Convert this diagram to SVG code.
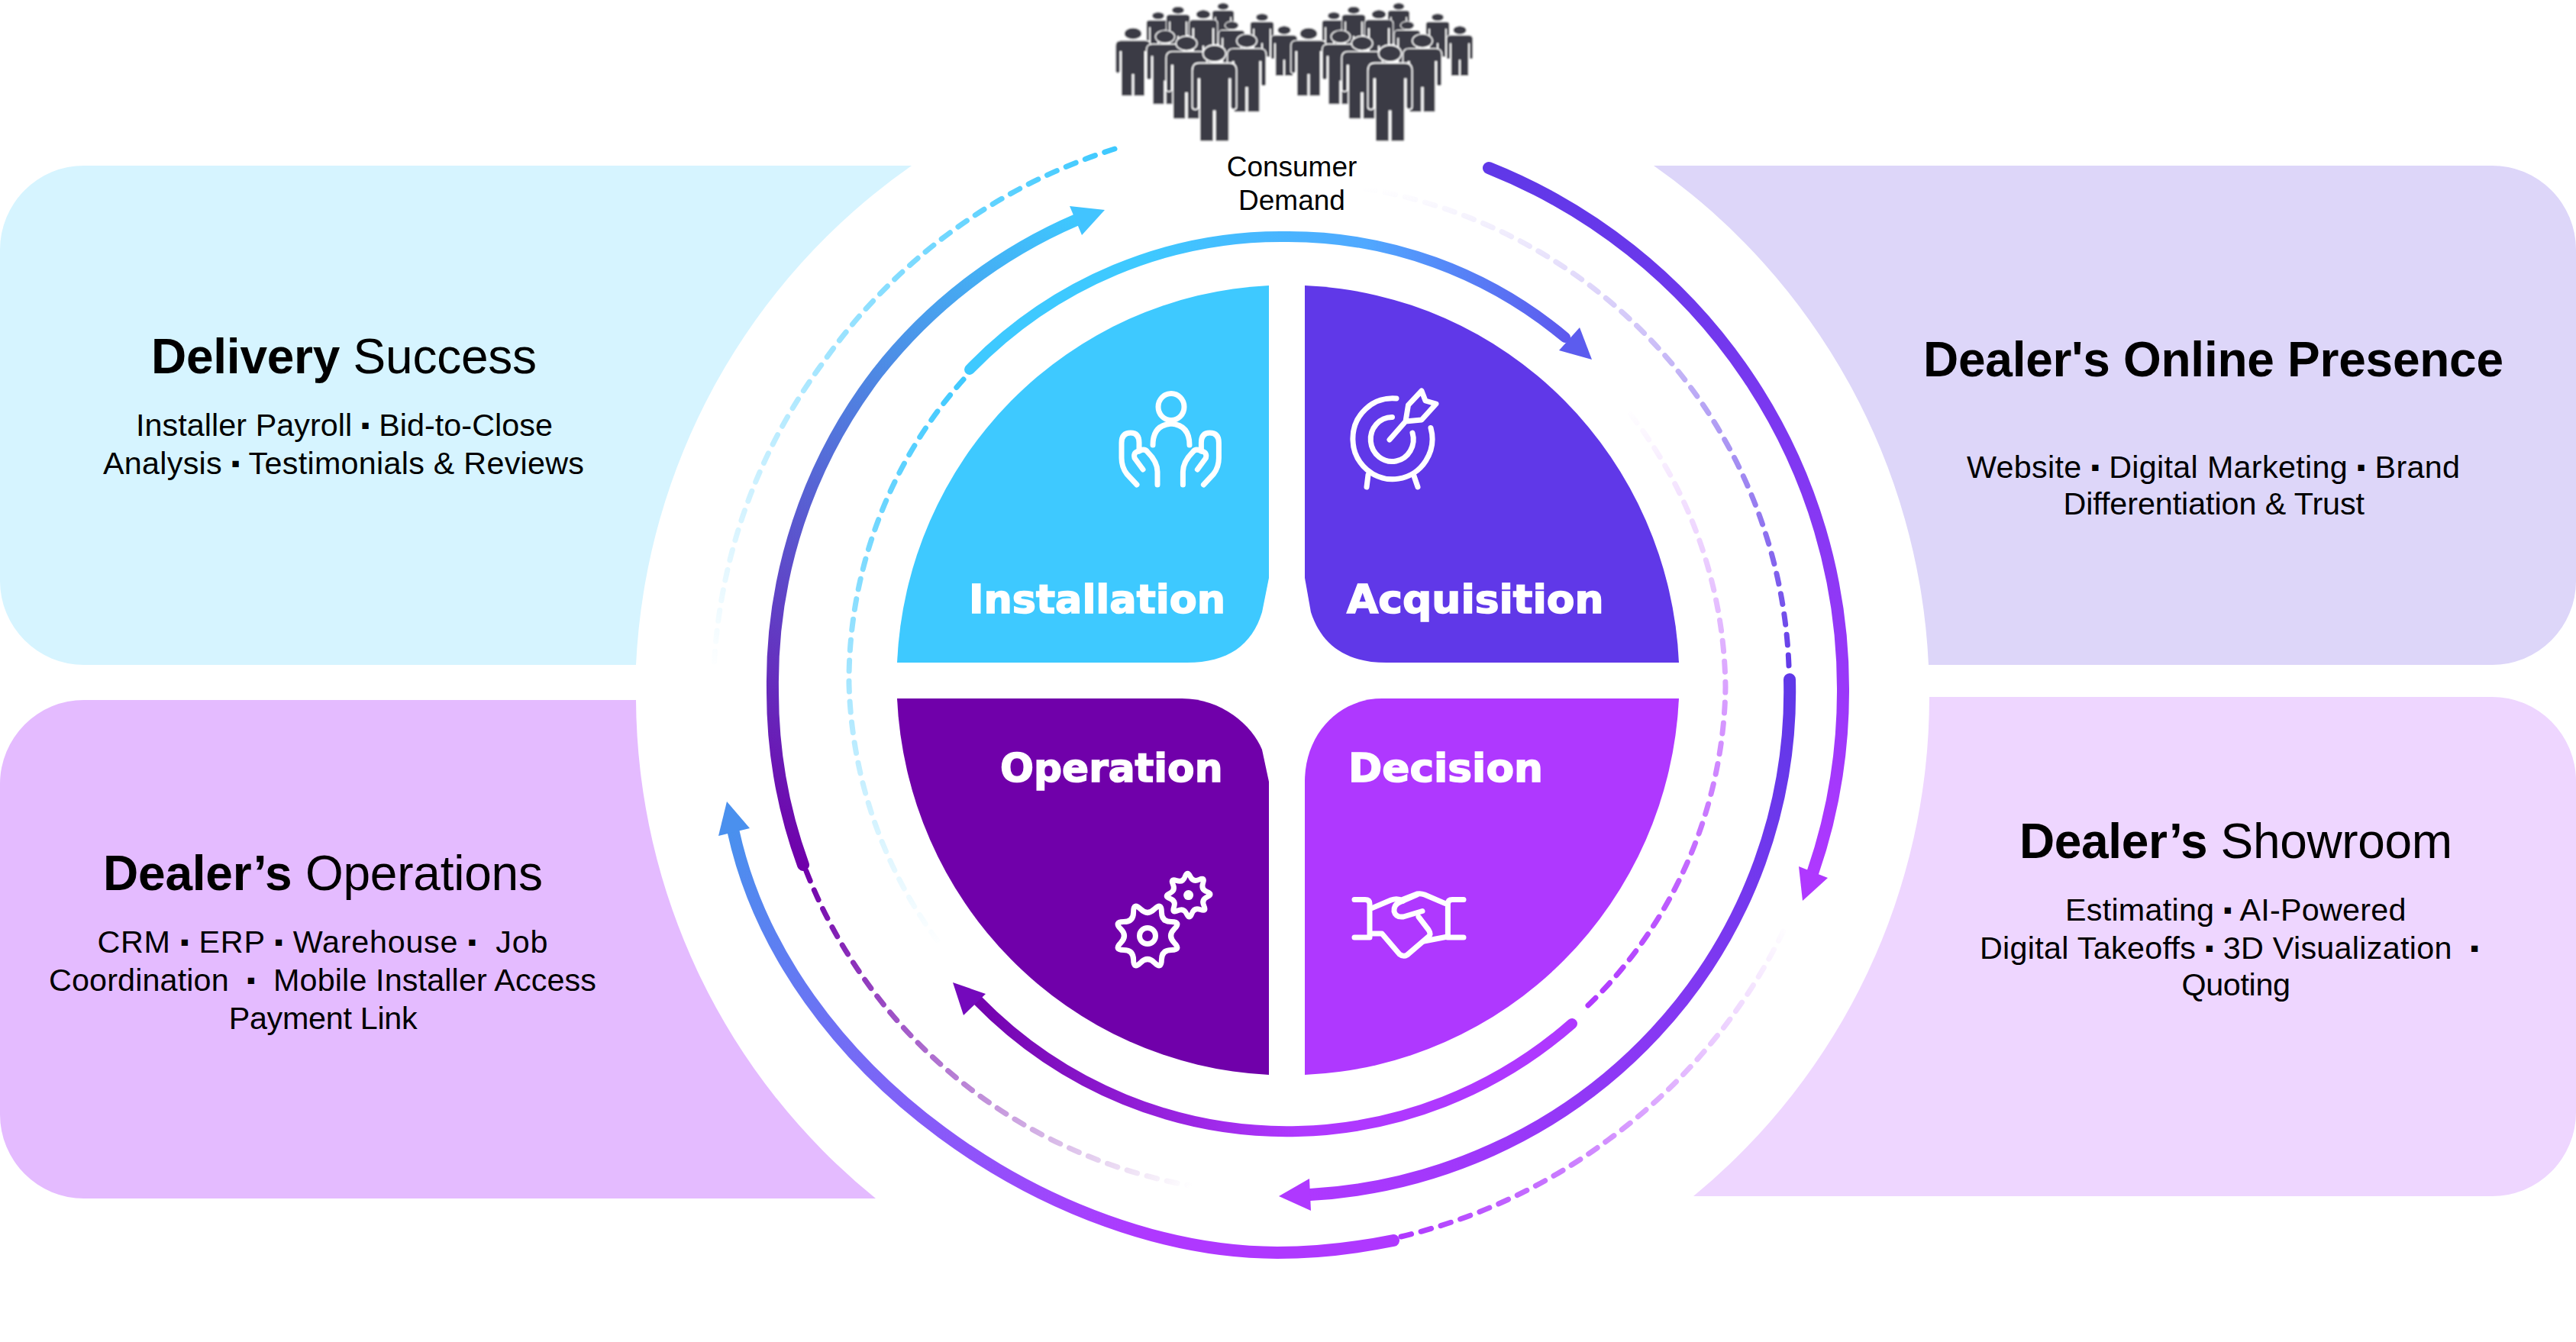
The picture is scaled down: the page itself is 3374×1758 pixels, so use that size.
<svg xmlns="http://www.w3.org/2000/svg" width="3374" height="1758" viewBox="0 0 3374 1758">
<style>
.h{font-family:"Liberation Sans",Arial,sans-serif;font-size:64px;fill:#000}
.b{font-family:"Liberation Sans",Arial,sans-serif;font-size:41.3px;fill:#000}
.c{font-family:"Liberation Sans",Arial,sans-serif;font-size:37px;fill:#000;text-anchor:middle}
.q{font-family:"DejaVu Sans",sans-serif;font-weight:700;font-size:52px;fill:#fff;stroke:#fff;stroke-width:1.6}
.bold{font-weight:700}
.dot{font-size:33px}
.ic{fill:none;stroke:#fff;stroke-width:7;stroke-linecap:round;stroke-linejoin:round}
.s{fill:none;stroke-linecap:round}
.a{stroke-width:14}
.r{stroke-width:16}
.d{fill:none;stroke-linecap:round;stroke-width:7;stroke-dasharray:14 13}
</style>
<defs>
<linearGradient id="gA1" gradientUnits="userSpaceOnUse" x1="1500" y1="0" x2="2080" y2="0"><stop offset="0" stop-color="#3EC9FF"/><stop offset=".5" stop-color="#50A8FF"/><stop offset="1" stop-color="#5F50EC"/></linearGradient>
<linearGradient id="gA1d" gradientUnits="userSpaceOnUse" x1="0" y1="490" x2="0" y2="1240"><stop offset="0" stop-color="#3EC9FF"/><stop offset="1" stop-color="#fff"/></linearGradient>
<linearGradient id="gA2" gradientUnits="userSpaceOnUse" x1="1700" y1="0" x2="1260" y2="0"><stop offset="0" stop-color="#AF38FF"/><stop offset="1" stop-color="#7000AA"/></linearGradient>
<linearGradient id="gA2d" gradientUnits="userSpaceOnUse" x1="0" y1="1320" x2="0" y2="535"><stop offset="0" stop-color="#AF38FF"/><stop offset="1" stop-color="#fff"/></linearGradient>
<linearGradient id="gB1" gradientUnits="userSpaceOnUse" x1="2345" y1="890" x2="1700" y2="1565"><stop offset="0" stop-color="#6038E8"/><stop offset="1" stop-color="#AF38FF"/></linearGradient>
<linearGradient id="gB1d" gradientUnits="userSpaceOnUse" x1="0" y1="880" x2="0" y2="245"><stop offset="0" stop-color="#6038E8"/><stop offset="1" stop-color="#fff"/></linearGradient>
<linearGradient id="gB2" gradientUnits="userSpaceOnUse" x1="1040" y1="1130" x2="1420" y2="285"><stop offset="0" stop-color="#7000AA"/><stop offset="1" stop-color="#3EC9FF"/></linearGradient>
<linearGradient id="gB2d" gradientUnits="userSpaceOnUse" x1="1055" y1="1140" x2="1560" y2="1555"><stop offset="0" stop-color="#7000AA"/><stop offset="1" stop-color="#fff"/></linearGradient>
<linearGradient id="gC1" gradientUnits="userSpaceOnUse" x1="0" y1="225" x2="0" y2="1145"><stop offset="0" stop-color="#6038E8"/><stop offset="1" stop-color="#AF38FF"/></linearGradient>
<linearGradient id="gC1d" gradientUnits="userSpaceOnUse" x1="1835" y1="1620" x2="2340" y2="1211"><stop offset="0" stop-color="#AF38FF"/><stop offset="1" stop-color="#fff"/></linearGradient>
<linearGradient id="gC2" gradientUnits="userSpaceOnUse" x1="1500" y1="1620" x2="960" y2="1090"><stop offset="0" stop-color="#AF38FF"/><stop offset="1" stop-color="#4A90EE"/></linearGradient>
<linearGradient id="gC2d" gradientUnits="userSpaceOnUse" x1="1460" y1="195" x2="935" y2="880"><stop offset="0" stop-color="#3EC9FF"/><stop offset="1" stop-color="#fff"/></linearGradient>
<filter id="soft" x="-5%" y="-5%" width="110%" height="110%"><feGaussianBlur stdDeviation="0.8"/></filter>
<g id="p"><ellipse cx="0" cy="10.5" rx="15" ry="11"/><path d="M-20 23H20Q29 23 29 33V80Q29 84 25 84Q21 84 21 80V44H19.5V124Q19.5 126 17 126H2Q1 126 1 124V86H-1V124Q-1 126 -2 126H-17Q-19.5 126 -19.5 124V44H-21V80Q-21 84 -25 84Q-29 84 -29 80V33Q-29 23 -20 23Z"/></g>
<g id="cluster" fill="#3A3A45" stroke="#fff" stroke-width="1.8">
<use href="#p" transform="translate(1602 4) scale(.5 .42)"/>
<use href="#p" transform="translate(1517 16) scale(.54 .45)"/>
<use href="#p" transform="translate(1543 8.6) scale(.54 .45)"/>
<use href="#p" transform="translate(1576 13) scale(.65 .55)"/>
<use href="#p" transform="translate(1653 18) scale(.54 .45)"/>
<use href="#p" transform="translate(1613.4 28) scale(.6 .5)"/>
<use href="#p" transform="translate(1682 34) scale(.6 .52)"/>
<use href="#p" transform="translate(1484 36.5) scale(.8 .71)"/>
<use href="#p" transform="translate(1526 40) scale(.84 .77)"/>
<use href="#p" transform="translate(1633 45) scale(.88 .81)"/>
<use href="#p" transform="translate(1554 47.7) scale(.92 .86)"/>
<use href="#p" transform="translate(1590.6 59.5)"/>
</g>
<path id="gear" d="M35.15 9.2Q44.3 18.4 31.35 18.4Q18.4 18.4 18.4 31.35Q18.4 44.3 9.2 35.15Q0 26 -9.2 35.15Q-18.4 44.3 -18.4 31.35Q-18.4 18.4 -31.35 18.4Q-44.3 18.4 -35.15 9.2Q-26 0 -35.15 -9.2Q-44.3 -18.4 -31.35 -18.4Q-18.4 -18.4 -18.4 -31.35Q-18.4 -44.3 -9.2 -35.15Q0 -26 9.2 -35.15Q18.4 -44.3 18.4 -31.35Q18.4 -18.4 31.35 -18.4Q44.3 -18.4 35.15 -9.2Q26 0 35.15 9.2Z"/>
<g id="hand"><path d="M1489 635L1476 621Q1469 612 1469 600V580Q1469 567 1481 567Q1492 567 1492 580V591Q1499 587 1503 592Q1516 605 1516 618V635"/><path d="M1492 591Q1484 592 1486 600L1497 615"/></g>
</defs>
<rect width="3374" height="1758" fill="#fff"/>

<g id="panel-delivery">
<path fill="#D6F4FF" d="M110 217H1194A847 847 0 0 0 833 871H110A110 110 0 0 1 0 761V327A110 110 0 0 1 110 217Z"/>
<text class="h" x="198" y="489" textLength="505"><tspan class="bold">Delivery</tspan> Success</text>
<text class="b" x="178" y="571" textLength="546">Installer Payroll <tspan class="dot" dy="-3">▪</tspan><tspan dy="3"> Bid-to-Close</tspan></text>
<text class="b" x="135" y="621" textLength="630">Analysis <tspan class="dot" dy="-3">▪</tspan><tspan dy="3"> Testimonials &amp; Reviews</tspan></text>
</g>
<g id="panel-online">
<path fill="#DDD6F9" d="M2166 217H3264A110 110 0 0 1 3374 327V761A110 110 0 0 1 3264 871H2526A847 847 0 0 0 2166 217Z"/>
<text class="h bold" x="2519" y="493" textLength="760">Dealer's Online Presence</text>
<text class="b" x="2576" y="626" textLength="646">Website <tspan class="dot" dy="-3">▪</tspan><tspan dy="3"> Digital Marketing </tspan><tspan class="dot" dy="-3">▪</tspan><tspan dy="3"> Brand</tspan></text>
<text class="b" x="2702.5" y="674" textLength="394.5">Differentiation &amp; Trust</text>
</g>
<g id="panel-operations">
<path fill="#E4BBFF" d="M110 917H833A847 847 0 0 0 1147 1570H110A110 110 0 0 1 0 1460V1027A110 110 0 0 1 110 917Z"/>
<text class="h" x="135" y="1166" textLength="576"><tspan class="bold">Dealer’s</tspan> Operations</text>
<text class="b" x="127.4" y="1248" textLength="590" xml:space="preserve">CRM <tspan class="dot" dy="-3">▪</tspan><tspan dy="3"> ERP </tspan><tspan class="dot" dy="-3">▪</tspan><tspan dy="3"> Warehouse </tspan><tspan class="dot" dy="-3">▪</tspan><tspan dy="3">  Job</tspan></text>
<text class="b" x="64" y="1298" textLength="717" xml:space="preserve">Coordination  <tspan class="dot" dy="-3">▪</tspan><tspan dy="3">  Mobile Installer Access</tspan></text>
<text class="b" x="299.7" y="1348" textLength="247">Payment Link</text>
</g>
<g id="panel-showroom">
<path fill="#EED6FF" d="M2527 913H3264A110 110 0 0 1 3374 1023V1457A110 110 0 0 1 3264 1567H2218A847 847 0 0 0 2527 913Z"/>
<text class="h" x="2645" y="1124" textLength="567"><tspan class="bold">Dealer’s</tspan> Showroom</text>
<text class="b" x="2705" y="1206" textLength="446.5">Estimating <tspan class="dot" dy="-3">▪</tspan><tspan dy="3"> AI-Powered</tspan></text>
<text class="b" x="2593" y="1256" textLength="654" xml:space="preserve">Digital Takeoffs <tspan class="dot" dy="-3">▪</tspan><tspan dy="3"> 3D Visualization  </tspan><tspan class="dot" dy="-3">▪</tspan></text>
<text class="b" x="2857.5" y="1304" textLength="142.5">Quoting</text>
</g>

<g id="connectors">
<path class="d" stroke="url(#gC2d)" d="M1460 195A739 735 0 0 0 1078 475A739 735 0 0 0 935 877"/>
<path class="d" stroke="url(#gC1d)" d="M1835 1620A739 735 0 0 0 2108 1492A739 735 0 0 0 2340 1211"/>
<path class="d" stroke="url(#gB1d)" d="M2343 872A667 660 0 0 0 1788 247"/>
<path class="d" stroke="url(#gB2d)" d="M1056 1141A667 660 0 0 0 1563 1554"/>
<path class="d" stroke="url(#gA1d)" d="M1262 497A573 586 0 0 0 1112 896A573 586 0 0 0 1232 1238"/>
<path class="d" stroke="url(#gA2d)" d="M2080 1317A573 586 0 0 0 2260 900A573 586 0 0 0 2132 538"/>
<path class="s r" stroke="url(#gC1)" d="M1950 220A739 735 0 0 1 2414 906A739 735 0 0 1 2374 1144"/>
<polygon fill="#AF38FF" points="2356,1135 2394,1150 2361,1180"/>
<path class="s r" stroke="url(#gC2)" d="M1825 1625C1770 1636 1720 1641 1673 1641C1383 1641 1030 1405.8 960.5 1089"/>
<polygon fill="#4A90EE" points="952,1050 941,1095 982,1085"/>
<path class="s r" stroke="url(#gB1)" d="M2344 890A667 660 0 0 1 1716 1565"/>
<polygon fill="#AF38FF" points="1675,1567 1715,1544 1717,1586"/>
<path class="s r" stroke="url(#gB2)" d="M1052 1133A660 660 0 0 1 1012 903A665 665 0 0 1 1149 489A665 665 0 0 1 1410 288"/>
<polygon fill="#42C4FF" points="1447,275 1401,270 1417,308"/>
<path class="s a" stroke="url(#gA1)" d="M1270 484A573 586 0 0 1 1686 310A573 586 0 0 1 2050 442"/>
<polygon fill="#5C5CEE" points="2042,459 2069,429 2085,471"/>
<path class="s a" stroke="url(#gA2)" d="M2059 1341A573 586 0 0 1 1700 1482A573 586 0 0 1 1280 1310"/>
<polygon fill="#7409BC" points="1248,1287 1291,1302 1262,1330"/>
</g>

<g id="quadrant-installation">
<path fill="#3EC9FF" d="M1662 374A512 518 0 0 0 1175 868H1555C1608 868 1640 845 1653 802L1662 757Z"/>
<text class="q" x="1269" y="802.5" textLength="336" lengthAdjust="spacingAndGlyphs">Installation</text>
<g class="ic"><ellipse cx="1534" cy="533" rx="17" ry="17.5"/><path d="M1510 583Q1510 557 1534 555Q1558 557 1558 583"/><use href="#hand"/><use href="#hand" transform="matrix(-1 0 0 1 3065.4 0)"/></g>
</g>
<g id="quadrant-acquisition">
<path fill="#6038E8" d="M1709 374A512 518 0 0 1 2199 868H1816C1763 868 1731 845 1717 802L1709 757Z"/>
<text class="q" x="1764" y="802.5" textLength="336.5" lengthAdjust="spacingAndGlyphs">Acquisition</text>
<g class="ic"><path d="M1829 522A52 53 0 1 0 1874 560.5"/><path d="M1823.5 546.5A28 29 0 1 0 1850 567"/><path d="M1820 576L1841 552L1844.5 530.7L1862 512L1867 525L1881 529L1862 550L1841 552"/><path d="M1792 622L1790 638M1851.5 622L1857 638"/></g>
</g>
<g id="quadrant-operation">
<path fill="#7000AA" d="M1175 915H1548C1600 915 1640 950 1653 982L1662 1024V1408A512 518 0 0 1 1175 915Z"/>
<text class="q" x="1310" y="1024" textLength="291.5" lengthAdjust="spacingAndGlyphs">Operation</text>
<g class="ic"><use href="#gear" transform="translate(1503 1226)"/><circle cx="1503" cy="1226" r="10.5"/><use href="#gear" transform="translate(1556.6 1172.6) rotate(20) scale(.68)" stroke-width="10"/><circle cx="1556.6" cy="1172.6" r="6.5" fill="#fff" stroke="none"/></g>
</g>
<g id="quadrant-decision">
<path fill="#AF38FF" d="M1810 915H2199A512 518 0 0 1 1709 1408V1024C1709 960 1755 915 1810 915Z"/>
<text class="q" x="1766" y="1024" textLength="255" lengthAdjust="spacingAndGlyphs">Decision</text>
<g class="ic"><path d="M1774 1178.6H1788Q1794 1178.6 1794 1184V1228M1774 1228H1794"/><path d="M1917 1178.6H1902Q1896.4 1178.6 1896.4 1184V1228M1917 1228H1896"/><path d="M1797 1189.6L1822 1179Q1830 1176 1838 1180"/><path d="M1838 1178L1856 1171Q1861 1170 1866 1172L1893 1183.6"/><path d="M1863 1193.5L1838 1201Q1828 1202 1826 1194Q1825 1186 1833 1182L1856 1172"/><path d="M1858 1201L1871 1218Q1875 1224 1871 1227L1843 1251Q1838 1254 1833 1250L1810 1223H1797"/><path d="M1865 1233L1896 1227"/></g>
</g>

<g id="consumer-demand">
<g filter="url(#soft)"><use href="#cluster"/><use href="#cluster" x="230"/></g>
<text class="c" x="1692" y="231">Consumer</text>
<text class="c" x="1692" y="275">Demand</text>
</g>
</svg>
